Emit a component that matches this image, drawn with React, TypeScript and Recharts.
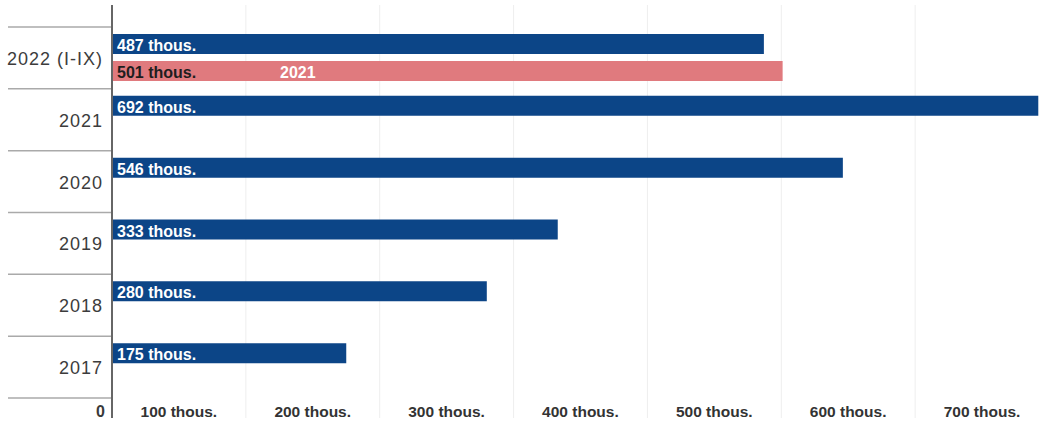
import React from 'react';
import { BarChart, Bar, XAxis, YAxis, CartesianGrid, LabelList } from 'recharts';

const years = ['2022 (I-IX)', '2021', '2020', '2019', '2018', '2017'];
const values = [487, 692, 546, 333, 280, 175];
const compareValues: (number | null)[] = [501, null, null, null, null, null];
const compareLabels = ['2021', '', '', '', '', ''];
const xTicks = [0, 100, 200, 300, 400, 500, 600, 700];
const unit = 'thous.';

const data = years.map((y, i) => ({
  year: y,
  value: values[i],
  compare: compareValues[i],
  compareLabel: compareLabels[i],
}));

const FONT = '"Liberation Sans", Arial, sans-serif';
const BLUE = '#0c4587';
const PINK = '#e07a7e';
const HALF = 67;
const BAND = 61.83;

const XTick = (props: any) => {
  const { x, y, payload } = props;
  if (payload.value === 0) {
    return (
      <text x={x - 7} y={y - 7} textAnchor="end" dominantBaseline="central" fontFamily={FONT} fontSize={16} fontWeight={700} fill="#3a3a3a">
        0
      </text>
    );
  }
  return (
    <text x={x - HALF} y={y - 7} textAnchor="middle" dominantBaseline="central" fontFamily={FONT} fontSize={15.5} fontWeight={700} fill="#333">
      {`${payload.value} ${unit}`}
    </text>
  );
};

const YTick = (props: any) => {
  const { x, y, payload, index } = props;
  return (
    <g>
      {index === 0 && <line x1={8} x2={111} y1={y - BAND / 2} y2={y - BAND / 2} stroke="#aaa" strokeWidth={1.5} />}
      <line x1={8} x2={111} y1={y + BAND / 2} y2={y + BAND / 2} stroke="#aaa" strokeWidth={1.5} />
      <text x={x} y={y + 1} textAnchor="end" dominantBaseline="central" fontFamily={FONT} fontSize={18} letterSpacing={1} fill="#3c3c3c">
        {payload.value}
      </text>
    </g>
  );
};

const BlueLabel = (props: any) => {
  const { x, y, height, value } = props;
  if (value == null) return null;
  return (
    <text x={x + 5} y={y + height - 3} fontFamily={FONT} fontSize={16} fontWeight={700} fill="#fff">
      {`${value} ${unit}`}
    </text>
  );
};

const PinkLabel = (props: any) => {
  const { x, y, height, value, index } = props;
  if (value == null) return null;
  return (
    <g>
      <text x={x + 5} y={y + height - 3} fontFamily={FONT} fontSize={16} fontWeight={700} fill="#1e1e1e">
        {`${value} ${unit}`}
      </text>
      <text x={x + 168} y={y + height - 3} fontFamily={FONT} fontSize={16} fontWeight={700} fill="#fff">
        {data[index]?.compareLabel}
      </text>
    </g>
  );
};

export default function App() {
  return (
    <div style={{ position: 'absolute', left: 0, top: 0, width: 1041, height: 423, overflow: 'hidden', background: '#fff' }}>
      <BarChart
        width={1050}
        height={423}
        data={data}
        layout="vertical"
        margin={{ top: 5, right: 1, bottom: -15, left: 0 }}
        barGap={7}
      >
        <CartesianGrid horizontal={false} vertical={true} stroke="#eeeeee" />
        <XAxis
          type="number"
          domain={[0, 700]}
          ticks={xTicks}
          interval={0}
          height={20}
          axisLine={false}
          tickLine={false}
          tickSize={0}
          tickMargin={0}
          tick={<XTick />}
        />
        <YAxis
          type="category"
          dataKey="year"
          width={112}
          interval={0}
          tickSize={0}
          tickMargin={9}
          tickLine={false}
          axisLine={{ stroke: '#666', strokeWidth: 2 }}
          padding={{ top: 22, bottom: 20 }}
          tick={<YTick />}
        />
        <Bar dataKey="value" fill={BLUE} barSize={20} isAnimationActive={false}>
          <LabelList dataKey="value" content={<BlueLabel />} />
        </Bar>
        <Bar dataKey="compare" fill={PINK} barSize={20} isAnimationActive={false}>
          <LabelList dataKey="compare" content={<PinkLabel />} />
        </Bar>
      </BarChart>
    </div>
  );
}
